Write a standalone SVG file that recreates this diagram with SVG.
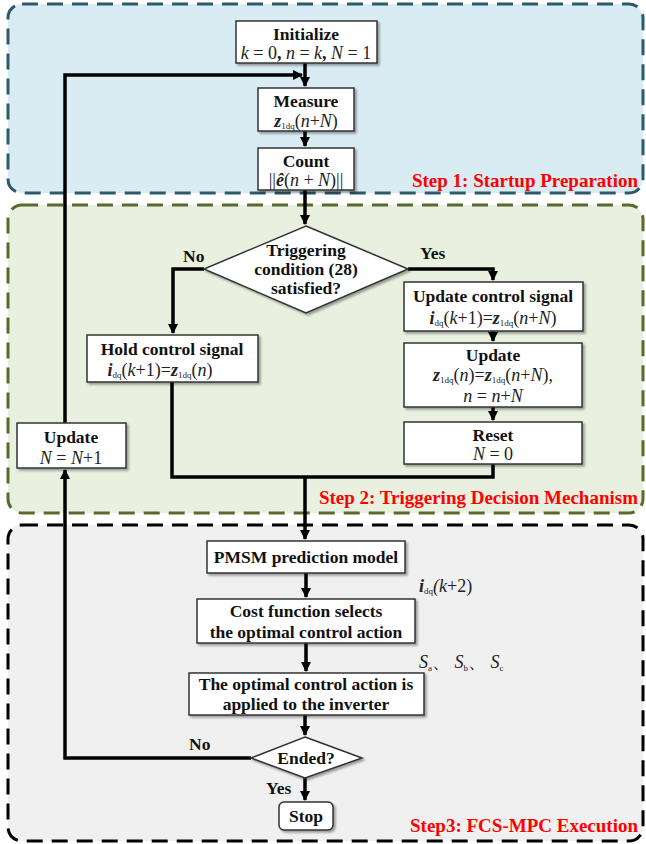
<svg xmlns="http://www.w3.org/2000/svg" width="646" height="844" viewBox="0 0 646 844">
<defs>
<style>
.t{font-family:"Liberation Serif","Times New Roman",serif;font-weight:bold;font-size:17.5px;fill:#111;text-anchor:middle}
.m{font-family:"Liberation Serif","Times New Roman",serif;font-style:italic;font-size:18px;fill:#222;text-anchor:middle}
.n{font-style:normal}
.b{font-weight:bold}
.s{font-size:9px;font-style:normal}
.lbl{font-family:"Liberation Serif","Times New Roman",serif;font-weight:bold;font-size:17.5px;fill:#111}
.step{font-family:"Liberation Serif","Times New Roman",serif;font-weight:bold;font-size:19px;fill:#ff0000;text-anchor:end}
.box{fill:#fff;stroke:#333;stroke-width:1.5;filter:url(#sh)}
.c{fill:none;stroke:#000;stroke-width:3.5}
</style>
<filter id="sh" x="-10%" y="-10%" width="130%" height="140%">
<feDropShadow dx="2" dy="2" stdDeviation="1" flood-color="#000" flood-opacity="0.35"/>
</filter>
<marker id="ar" viewBox="0 0 10 10" refX="9" refY="5" markerWidth="3" markerHeight="3" orient="auto" markerUnits="strokeWidth">
<path d="M0,0 L10,5 L0,10 z" fill="#000"/>
</marker>
</defs>

<g id="step1">
<rect x="8" y="4" width="635" height="189" rx="14" fill="#daecf3" stroke="#2c5a6a" stroke-width="3" stroke-dasharray="16 9"/>
<text class="step" x="638" y="187">Step 1: Startup Preparation</text>
</g>
<g id="step2">
<rect x="8" y="205" width="635" height="308" rx="14" fill="#e9f0df" stroke="#5a6a2e" stroke-width="3" stroke-dasharray="16 9"/>
<text class="step" x="638" y="504">Step 2: Triggering Decision Mechanism</text>
</g>
<g id="step3">
<rect x="8" y="525" width="635" height="316" rx="14" fill="#f0f0f0" stroke="#000" stroke-width="3" stroke-dasharray="16 9"/>
<text class="step" x="638" y="832">Step3: FCS-MPC Execution</text>
</g>

<g id="connectors">
<path class="c" d="M305,63 V86" marker-end="url(#ar)"/>
<path class="c" d="M305,131 V146" marker-end="url(#ar)"/>
<path class="c" d="M305,190 V224" marker-end="url(#ar)"/>
<path class="c" d="M204,269 H173 V333" marker-end="url(#ar)"/>
<path class="c" d="M408,269 H493 V280" marker-end="url(#ar)"/>
<path class="c" d="M493,331 V341" marker-end="url(#ar)"/>
<path class="c" d="M493,407 V420" marker-end="url(#ar)"/>
<path class="c" d="M172,382 V477 H493 V464"/>
<path class="c" d="M305,477 V539" marker-end="url(#ar)"/>
<path class="c" d="M306,573 V597" marker-end="url(#ar)"/>
<path class="c" d="M306,643 V671" marker-end="url(#ar)"/>
<path class="c" d="M305,715 V735" marker-end="url(#ar)"/>
<path class="c" d="M305,778 V800" marker-end="url(#ar)"/>
<path class="c" d="M251,758 H65 V470" marker-end="url(#ar)"/>
<path class="c" d="M65,423 V75 H302" marker-end="url(#ar)"/>
<text class="lbl" x="183" y="262">No</text>
<text class="lbl" x="420" y="259">Yes</text>
<text class="lbl" x="189" y="750">No</text>
<text class="lbl" x="266" y="794">Yes</text>
<text class="m" x="419" y="592" style="text-anchor:start"><tspan class="b">i</tspan><tspan class="s" dy="2">dq</tspan><tspan dy="-2">(</tspan>k<tspan class="n">+2)</tspan></text>
<text class="m" x="419" y="668" style="text-anchor:start">S<tspan class="s" font-style="italic" dy="3">a</tspan><tspan class="n" dy="-3">、 </tspan>S<tspan class="s" font-style="italic" dy="3">b</tspan><tspan class="n" dy="-3">、 </tspan>S<tspan class="s" font-style="italic" dy="3">c</tspan></text>
</g>

<g id="initialize">
<rect class="box" x="236" y="21" width="141" height="42"/>
<text class="t" x="306" y="40">Initialize</text>
<text class="m" x="306" y="59">k<tspan class="n"> = 0</tspan><tspan class="n b">,</tspan> n<tspan class="n"> = </tspan>k<tspan class="n b">,</tspan> N<tspan class="n"> = 1</tspan></text>
</g>
<g id="measure">
<rect class="box" x="258" y="88" width="96" height="43"/>
<text class="t" x="306" y="107">Measure</text>
<text class="m" x="306" y="127"><tspan class="b">z</tspan><tspan class="s" dy="2">1dq</tspan><tspan class="n" dy="-2">(</tspan>n<tspan class="n">+</tspan>N<tspan class="n">)</tspan></text>
</g>
<g id="count">
<rect class="box" x="258" y="148" width="96" height="42"/>
<text class="t" x="306" y="167">Count</text>
<text class="m" x="306" y="186"><tspan class="n">||</tspan><tspan class="b">ê</tspan><tspan class="n">(</tspan>n<tspan class="n"> + </tspan>N<tspan class="n">)||</tspan></text>
</g>
<g id="decision">
<polygon points="306,226 408,269 306,313 204,269" fill="#fff" stroke="#333" stroke-width="1.5" filter="url(#sh)"/>
<text class="t" x="306" y="256">Triggering</text>
<text class="t" x="306" y="275">condition (28)</text>
<text class="t" x="306" y="294">satisfied?</text>
</g>
<g id="update-control">
<rect class="box" x="404" y="282" width="179" height="49"/>
<text class="t" x="493" y="302">Update control signal</text>
<text class="m" x="493" y="324"><tspan class="b">i</tspan><tspan class="s" dy="2">dq</tspan><tspan class="n" dy="-2">(</tspan>k<tspan class="n">+1)=</tspan><tspan class="b">z</tspan><tspan class="s" dy="2">1dq</tspan><tspan class="n" dy="-2">(</tspan>n<tspan class="n">+</tspan>N<tspan class="n">)</tspan></text>
</g>
<g id="update-z">
<rect class="box" x="404" y="343" width="178" height="64"/>
<text class="t" x="493" y="361">Update</text>
<text class="m" x="493" y="381" font-size="17"><tspan class="b">z</tspan><tspan class="s" dy="2">1dq</tspan><tspan class="n" dy="-2">(</tspan>n<tspan class="n">)=</tspan><tspan class="b">z</tspan><tspan class="s" dy="2">1dq</tspan><tspan class="n" dy="-2">(</tspan>n<tspan class="n">+</tspan>N<tspan class="n">),</tspan></text>
<text class="m" x="493" y="402" font-size="17">n<tspan class="n"> = </tspan>n<tspan class="n">+</tspan>N</text>
</g>
<g id="reset">
<rect class="box" x="404" y="422" width="178" height="42"/>
<text class="t" x="493" y="441">Reset</text>
<text class="m" x="493" y="460">N<tspan class="n"> = 0</tspan></text>
</g>
<g id="hold">
<rect class="box" x="87" y="335" width="171" height="47"/>
<text class="t" x="172" y="355">Hold control signal</text>
<text class="m" x="160" y="376"><tspan class="b">i</tspan><tspan class="s" dy="2">dq</tspan><tspan class="n" dy="-2">(</tspan>k<tspan class="n">+1)=</tspan><tspan class="b">z</tspan><tspan class="s" dy="2">1dq</tspan><tspan class="n" dy="-2">(</tspan>n<tspan class="n">)</tspan></text>
</g>
<g id="update-n">
<rect class="box" x="17" y="423" width="109" height="45"/>
<text class="t" x="71" y="443">Update</text>
<text class="m" x="71" y="464">N<tspan class="n"> = </tspan>N<tspan class="n">+1</tspan></text>
</g>
<g id="pmsm">
<rect class="box" x="207" y="541" width="198" height="32"/>
<text class="t" x="306" y="563">PMSM prediction model</text>
</g>
<g id="cost">
<rect class="box" x="197" y="599" width="218" height="44"/>
<text class="t" x="306" y="617">Cost function selects</text>
<text class="t" x="306" y="638">the optimal control action</text>
</g>
<g id="apply">
<rect class="box" x="189" y="673" width="235" height="42"/>
<text class="t" x="306" y="690">The optimal control action is</text>
<text class="t" x="306" y="710">applied to the inverter</text>
</g>
<g id="ended">
<polygon points="305,737 362,758 305,778 251,758" fill="#fff" stroke="#333" stroke-width="1.5" filter="url(#sh)"/>
<text class="t" x="306" y="764">Ended?</text>
</g>
<g id="stop">
<rect class="box" x="279" y="802" width="54" height="28" rx="5"/>
<text class="t" x="306" y="822">Stop</text>
</g>
</svg>
